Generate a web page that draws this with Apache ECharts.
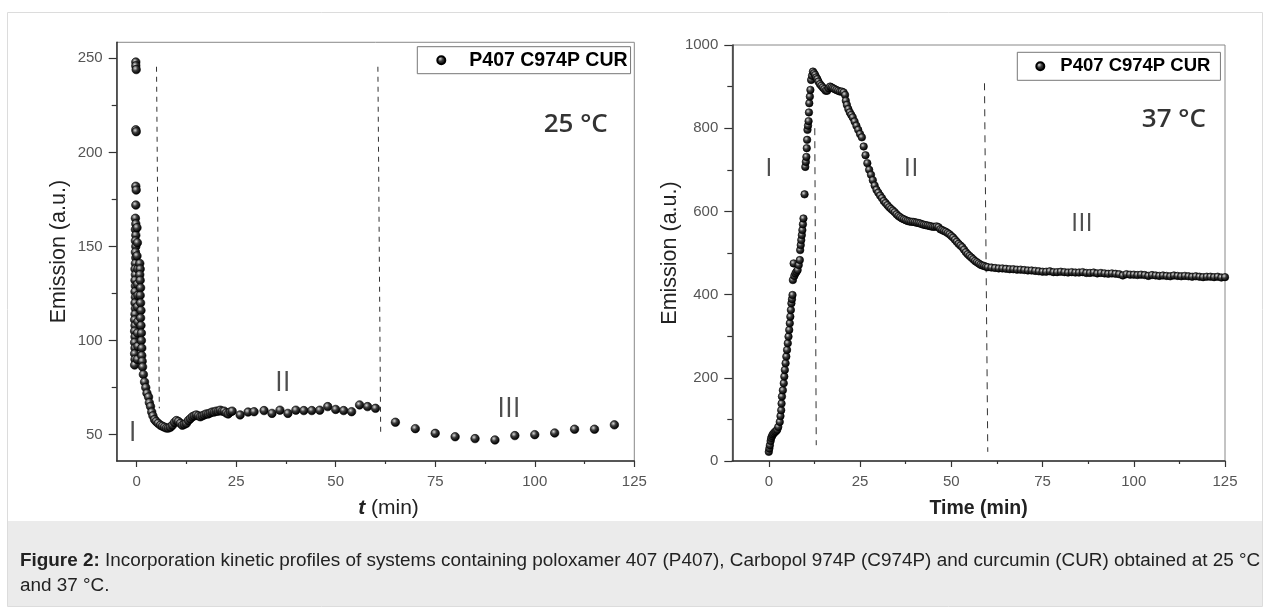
<!DOCTYPE html>
<html>
<head>
<meta charset="utf-8">
<script src="https://cdn.jsdelivr.net/npm/echarts@6/dist/echarts.min.js"></script>
<style>
html,body{margin:0;padding:0;background:#fff;}
#c{width:1270px;height:612px;}
</style>
</head>
<body>
<div id="c"></div>
<script>
// ---------------- DATA ----------------
const seriesName = 'P407 C974P CUR';

// 25 °C : [time (min), emission (a.u.)]
const points25 = [
  [-0.2,248],[-0.2,246],[-0.1,244],[-0.2,212],[-0.1,211],[-0.2,182],[-0.1,180],[-0.2,172],
  [-0.3,165],[-0.2,162],[-0.3,159],[-0.2,156],[-0.3,153],[-0.2,150],[-0.3,147],[-0.2,144],
  [-0.3,141],[-0.4,138],[-0.3,135],[-0.4,132],[-0.3,129],[-0.4,126],[-0.3,123],[-0.4,120],
  [-0.3,117],[-0.4,114],[-0.5,111],[-0.4,108],[-0.5,105],[-0.4,102],[-0.5,99],[-0.4,96],
  [-0.5,93],[-0.4,90],[-0.5,87],
  [0.1,160],[0.2,152],[0.1,145],[0.3,138],[0.2,130],[0.3,124],[0.2,118],[0.3,110],[0.2,104],[0.3,97],[0.2,90],
  [0.8,141],[0.9,138],[0.8,135],[0.9,132],[1.0,128],[0.9,124],[1.0,120],[1.1,116],[1.0,112],
  [1.1,108],[1.2,104],[1.2,100],[1.3,96],[1.3,92],[1.4,89],
  [1.5,86],[1.7,82],[2.0,78],[2.3,75],[2.6,72],[3.0,70],[3.2,67],[3.5,65],[3.8,62],[4.1,60],
  [4.5,58],[4.9,57],[5.4,56],[6.0,55],[6.5,54.5],[7.0,54],[7.5,53.5],[8.0,53.5],[8.5,54],
  [9.0,55],[9.5,56.5],[10.0,57.5],[10.5,57],[11.0,56],[11.5,55],[12.0,55.5],[12.5,56],
  [13.0,57.5],[13.5,58.5],[14.0,59.5],[14.5,60],[15.0,60.5],[15.5,60],[16.0,59.5],[16.5,60],
  [17.0,60.5],[17.5,61],[18.0,61],[18.5,61.5],[19.0,62],[19.5,62],[20.0,62.5],[20.5,62.5],
  [21.0,63],[21.5,62.5],[22.0,62.5],[22.5,61.5],[23.0,61],[23.5,62],[24.0,62.5],
  [26,60.5],[28,62],[29.5,62.2],[32,62.8],[34,61.3],[36,63],[38,61.3],[40,63],[42,62.8],
  [44,62.8],[46,63],[48,64.9],[50,63.4],[52,62.8],[54,62.2],[56,65.8],[58,64.9],[60,64],
  [65,56.6],[70,53.2],[75,50.7],[80,48.9],[85,47.9],[90,47.2],[95,49.5],[100,50],
  [105,50.9],[110,52.9],[115,52.9],[120,55.2]
];

// 37 °C : [time (min), emission (a.u.)]
const points37 = [
  [0.0,22],[0.15,30],[0.3,38],[0.5,48],[0.65,55],[0.9,60],[1.1,64],[1.4,67],[1.7,70],[2.0,72],
  [2.3,75],[2.6,82],[3.0,94],[3.2,108],[3.4,122],[3.5,138],[3.6,155],[3.85,170],[4.1,187],
  [4.25,203],[4.4,219],[4.6,235],[4.8,251],[5.0,267],[5.2,283],[5.4,299],[5.6,315],[5.75,331],
  [5.9,347],[6.05,363],[6.2,379],[6.35,389],[6.5,399],[6.6,435],[6.8,475],[7.0,445],[7.3,451],
  [7.6,455],[7.9,459],[8.2,471],[8.5,483],[8.6,507],[8.75,519],[8.9,531],[9.05,543],[9.2,555],
  [9.35,569],[9.5,583],[9.8,641],[10.0,707],[10.15,719],[10.3,731],[10.4,752],[10.5,772],
  [10.6,796],[10.75,806],[10.9,817],[11.0,838],[11.1,860],[11.25,876],[11.4,892],[11.6,916],
  [11.85,926],[12.1,936],
  [12.4,932],[12.7,928],[13.0,922],[13.3,918],[13.6,912],[14.0,906],[14.4,902],[14.8,898],
  [15.2,894],[15.6,890],[16.0,890],[16.4,896],[16.8,900],[17.2,898],[17.6,896],[18.0,894],
  [18.5,892],[19.0,890],[19.5,888],[20.0,888],[20.5,886],[20.9,880],[21.1,866],[21.4,856],
  [21.8,846],[22.2,838],[22.6,832],[23.0,826],[23.5,816],[24.0,806],[24.5,796],[25.0,786],
  [25.5,778],[26.0,756],[26.5,735],[27.0,716],[27.5,700],[28.0,688],[28.5,675],[29.0,662],
  [29.5,652],[30.0,645],[30.5,638],[31.0,632],[31.5,625],[32.0,620],[32.5,615],[33.0,610],
  [33.5,606],[34.0,602],[34.5,598],[35.0,593],[35.5,589],[36.0,586],[36.5,583],[37.0,581],
  [37.5,579],[38.0,577],[38.5,576],[39.0,575],[39.5,575],[40.0,574],[40.5,573],[41.0,572],
  [41.5,571],[42.0,569],[42.5,568],[43.0,567],[43.5,566],[44.0,565],[44.5,564],[45.0,563],
  [45.5,563],[46.0,564],[46.5,562],[47.0,557],[47.5,555],[48.0,553],[48.5,551],[49.0,548],
  [49.5,545],[50.0,541],[50.5,537],[51.0,532],[51.5,527],[52.0,522],[52.5,518],[53.0,514],
  [53.5,508],[54.0,502],[54.5,497],[55.0,493],[55.5,489],[56.0,485],[56.5,481],[57.0,478],
  [57.5,475],[58.0,472],[58.5,470],[59.0,469],[59.5,467],[60.0,466],
  [61,465],[62,464],[63,463],[64,463],[65,462],[66,461],[67,461],[68,460],[69,460],[70,459],
  [71,458],[72,458],[73,457],[74,456],[75,455],[76,455],[77,456],[78,454],[79,454],[80,455],
  [81,454],[82,453],[83,454],[84,453],[85,453],[86,454],[87,452],[88,452],[89,453],[90,451],
  [91,452],[92,451],[93,450],[94,451],[95,450],[96,449],[97,446],[98,449],[99,448],[100,448],
  [101,447],[102,448],[103,447],[104,445],[105,447],[106,446],[107,445],[108,446],[109,445],
  [110,444],[111,446],[112,445],[113,444],[114,445],[115,444],[116,443],[117,444],[118,443],
  [119,442],[120,443],[121,443],[122,442],[123,443],[124,441],[125,442]
];

// Phase boundaries (dashed lines): [[t_top, y_top], [t_bottom, y_bottom]]
const dividers25 = [ [[5.0,245.5],[5.7,64]], [[60.6,245.5],[61.3,50.9]] ];
const dividers37 = [ [[12.6,800],[13.0,38]], [[59.1,908],[60.0,22]] ];

// Phase labels: [t, y, text]
const phaseLabels25 = [[-1.0,50.9,'I'],[36.7,77.5,'II'],[93.5,63.7,'III']];
const phaseLabels37 = [[0,702,'I'],[39,702,'II'],[85.8,570,'III']];
const tempLabel25 = [110.3,214.8,'25 °C'];
const tempLabel37 = [111,821,'37 °C'];

// Axis ranges and ticks
const xRange25 = [-5,125], yRange25 = [36,258.5];
const xRange37 = [-10,125], yRange37 = [0,1000];
const xMajor = [0,25,50,75,100,125];
const xMinor = [12.5,37.5,62.5,87.5,112.5];
const yMajor25 = [50,100,150,200,250];
const yMinor25 = [75,125,175,225];
const yMajor37 = [0,200,400,600,800,1000];
const yMinor37 = [100,300,500,700,900];

const captionBold = 'Figure 2:';
const captionText = ' Incorporation kinetic profiles of systems containing poloxamer 407 (P407), Carbopol 974P (C974P) and curcumin (CUR) obtained at 25 °C';
const captionText2 = 'and 37 °C.';

// ---------------- STYLE ----------------
const FONT = 'Liberation Sans, Arial, sans-serif';
const ball = {
  type:'radial', x:0.38, y:0.35, r:0.62,
  colorStops:[{offset:0,color:'#d8d8d8'},{offset:0.45,color:'#3a3a3a'},{offset:1,color:'#000'}]
};
const axisColor = '#333';
const plain = v => String(v);

function xAxesFor(grid, range){
  return [{
    gridIndex:grid, type:'value', min:range[0], max:range[1], position:'bottom',
    axisLine:{show:true,onZero:false,lineStyle:{color:axisColor,width:1.5}},
    axisTick:{show:true,customValues:xMajor,length:6,lineStyle:{color:axisColor,width:1.2}},
    axisLabel:{show:true,customValues:xMajor,color:'#555',fontSize:15,fontFamily:FONT,margin:13,formatter:plain},
    splitLine:{show:false}
  },{
    gridIndex:grid, type:'value', min:range[0], max:range[1], position:'bottom',
    axisLine:{show:false,onZero:false},
    axisTick:{show:true,customValues:xMinor,length:3,lineStyle:{color:axisColor,width:1.2}},
    axisLabel:{show:false}, splitLine:{show:false}
  }];
}
function yAxesFor(grid, range, major, minor){
  return [{
    gridIndex:grid, type:'value', min:range[0], max:range[1], position:'left',
    axisLine:{show:true,onZero:false,lineStyle:{color:axisColor,width:1.5}},
    axisTick:{show:true,customValues:major,length:8,lineStyle:{color:axisColor,width:1.2}},
    axisLabel:{show:true,customValues:major,color:'#555',fontSize:15,fontFamily:FONT,margin:14,formatter:plain},
    splitLine:{show:false},
    name:'Emission (a.u.)', nameLocation:'middle', nameGap: grid===0?47:51,
    nameTextStyle:{fontSize:21.5,fontFamily:FONT,color:'#222'}
  },{
    gridIndex:grid, type:'value', min:range[0], max:range[1], position:'left',
    axisLine:{show:false,onZero:false},
    axisTick:{show:true,customValues:minor,length:5,lineStyle:{color:axisColor,width:1.2}},
    axisLabel:{show:false}, splitLine:{show:false}
  }];
}

const xAxes = xAxesFor(0,xRange25).concat(xAxesFor(1,xRange37));
xAxes[0].name = '{t|t} (min)';
xAxes[0].nameLocation = 'middle';
xAxes[0].nameGap = 37;
xAxes[0].nameTextStyle = {fontSize:21,fontFamily:FONT,color:'#222',padding:[0,0,0,26],
  rich:{t:{fontSize:21,fontFamily:FONT,fontStyle:'italic',fontWeight:'bold',color:'#222'}}};
xAxes[2].name = 'Time (min)';
xAxes[2].nameLocation = 'middle';
xAxes[2].nameGap = 38;
xAxes[2].nameTextStyle = {fontSize:19.5,fontFamily:FONT,color:'#222',fontWeight:'bold'};

const yAxes = yAxesFor(0,yRange25,yMajor25,yMinor25).concat(yAxesFor(1,yRange37,yMajor37,yMinor37));

function dividerSeries(lines, xi, yi, dash){
  return lines.map(l => ({
    type:'line', xAxisIndex:xi, yAxisIndex:yi, data:l, symbol:'none', silent:true, z:1,
    lineStyle:{color:'#333',width:1,type:dash}
  }));
}
function textSeries(items, xi, yi, size, color, weight){
  return {
    type:'scatter', xAxisIndex:xi, yAxisIndex:yi, silent:true, symbolSize:1, z:3,
    itemStyle:{color:'rgba(0,0,0,0)'},
    data:items.map(d=>({value:[d[0],d[1]],label:{formatter:d[2]}})),
    label:{show:true,position:'inside',fontFamily:'Open Sans, sans-serif',fontSize:size,
           color:color||'#222',fontWeight:weight||'normal'}
  };
}

const chart = echarts.init(document.getElementById('c'), null, {renderer:'canvas'});
chart.setOption({
  animation:false,
  backgroundColor:'#fff',
  grid:[
    {left:116.7, top:42.3, width:517.6, height:418.7, show:true, borderColor:'#888', borderWidth:1, outerBoundsMode:'none'},
    {left:732.3, top:45, width:492.7, height:416, show:true, borderColor:'#888', borderWidth:1, outerBoundsMode:'none'}
  ],
  xAxis:xAxes,
  yAxis:yAxes,
  legend:[
    {data:[seriesName], left:417.3, top:46.7, orient:'horizontal', icon:'circle',
     itemWidth:46, itemHeight:8, padding:[3.5,3,3.5,19], borderColor:'#777', borderWidth:1,
     backgroundColor:'#fff', selectedMode:false,
     textStyle:{fontFamily:FONT,fontWeight:'bold',fontSize:19.5,color:'#000'}},
    {data:[seriesName], left:1017.3, top:52.3, orient:'horizontal', icon:'circle',
     itemWidth:30, itemHeight:8, padding:[4.5,10,4.5,18], borderColor:'#777', borderWidth:1,
     backgroundColor:'#fff', selectedMode:false,
     textStyle:{fontFamily:FONT,fontWeight:'bold',fontSize:18.5,color:'#000'}}
  ],
  series:[
    ...dividerSeries(dividers25,0,0,[5,5]),
    ...dividerSeries(dividers37,2,2,[7,6]),
    {name:seriesName, type:'scatter', xAxisIndex:0, yAxisIndex:0, data:points25, symbolSize:8.5, z:2,
     itemStyle:{color:ball, borderColor:'#000', borderWidth:0.6, opacity:1}},
    {name:seriesName, type:'scatter', xAxisIndex:2, yAxisIndex:2, data:points37, symbolSize:7.5, z:2,
     itemStyle:{color:ball, borderColor:'#000', borderWidth:0.6, opacity:1}},
    textSeries(phaseLabels25,0,0,28),
    textSeries(phaseLabels37,2,2,26),
    textSeries([tempLabel25],0,0,26,'#000','600'),
    textSeries([tempLabel37],2,2,26,'#000','600')
  ],
  graphic:[
    {type:'rect', z:-10, silent:true, shape:{x:7.5,y:12.5,width:1255,height:594},
     style:{fill:'#fff',stroke:'#dcdcdc',lineWidth:1}},
    {type:'rect', z:-9, silent:true, shape:{x:8,y:521,width:1254,height:85},
     style:{fill:'#ebebeb'}},
    {type:'text', z:10, silent:true, left:20, top:548,
     style:{
       text:'{b|'+captionBold+'}'+captionText+'\n'+captionText2,
       font:'18.9px '+FONT, fill:'#222', lineHeight:25,
       rich:{b:{fontWeight:'bold',fontSize:18.9,fontFamily:FONT,fill:'#222',lineHeight:25}}
     }}
  ]
});
</script>
</body>
</html>
